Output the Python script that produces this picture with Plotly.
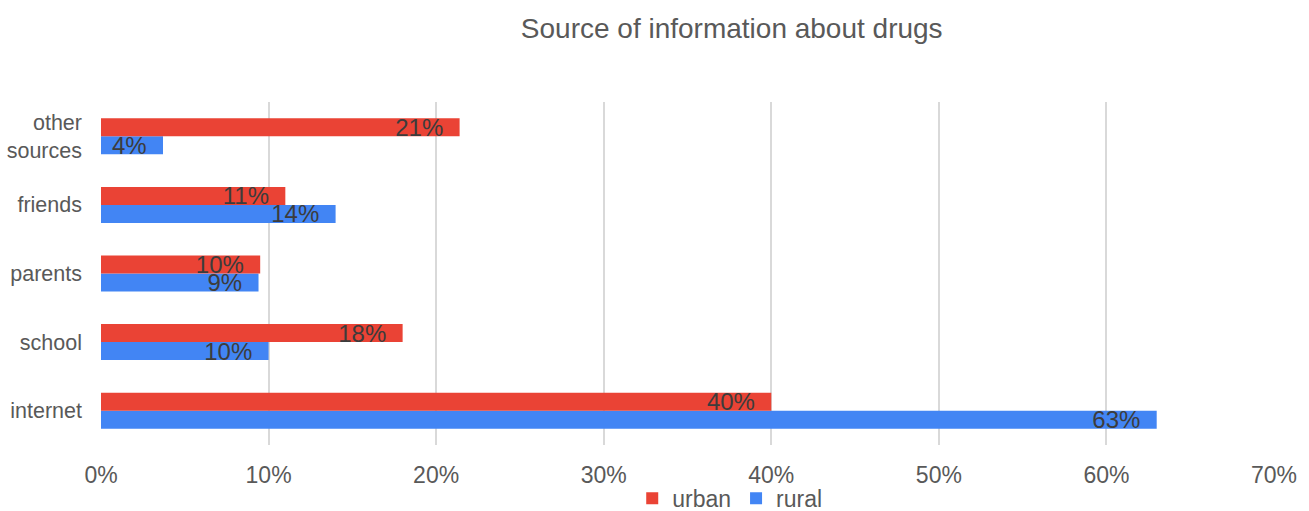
import plotly.graph_objects as go

# Survey data: share of respondents naming each source (percent)
categories = ["internet", "school", "parents", "friends", "other<br>sources"]
urban = [40.0, 18.0, 9.5, 11.0, 21.4]
rural = [63.0, 10.0, 9.4, 14.0, 3.7]
x_ticks = [0, 10, 20, 30, 40, 50, 60, 70]
x_tick_labels = [f"{v}%" for v in x_ticks]

RED = "#EA4335"
BLUE = "#4285F4"
LABEL_COLOR = "#3c3c3c"
AXIS_TEXT = "#595959"
FONT = "Liberation Sans, Arial, sans-serif"
PAD = "\u00a0\u00a0"  # keeps the value label a little away from the bar end

fig = go.Figure()
fig.add_trace(go.Bar(
    name="rural", y=categories, x=rural, orientation="h",
    marker=dict(color=BLUE, line=dict(width=0)),
    texttemplate="%{x:.0f}%" + PAD, textposition="inside",
    insidetextanchor="end", constraintext="none",
    textfont=dict(family=FONT, size=24, color=LABEL_COLOR),
    legendrank=2, hoverinfo="skip",
))
fig.add_trace(go.Bar(
    name="urban", y=categories, x=urban, orientation="h",
    marker=dict(color=RED, line=dict(width=0)),
    texttemplate="%{x:.0f}%" + PAD, textposition="inside",
    insidetextanchor="end", constraintext="none",
    textfont=dict(family=FONT, size=24, color=LABEL_COLOR),
    legendrank=1, hoverinfo="skip",
))

fig.update_layout(
    width=1309, height=511,
    margin=dict(l=101, r=35, t=102, b=66, autoexpand=False),
    paper_bgcolor="white", plot_bgcolor="white",
    barmode="group", bargap=0.475, bargroupgap=0,
    font=dict(family=FONT, color=AXIS_TEXT),
    title=dict(
        text="Source of information about drugs",
        x=0.559, xanchor="center", y=0.945, yanchor="middle",
        font=dict(size=28, color=AXIS_TEXT),
    ),
    xaxis=dict(
        range=[0, 70], tickvals=x_ticks, ticktext=x_tick_labels,
        showgrid=True, gridcolor="#d9d9d9", gridwidth=2,
        zeroline=False, showline=False, ticks="",
        ticklabelstandoff=14,
        tickfont=dict(size=23, color=AXIS_TEXT),
    ),
    yaxis=dict(
        showgrid=False, zeroline=False, showline=False, ticks="",
        ticklabelstandoff=18,
        tickfont=dict(size=21.5, color=AXIS_TEXT),
    ),
    legend=dict(
        orientation="h", x=0.536, xanchor="center",
        yref="container", y=0.025, yanchor="middle",
        bgcolor="rgba(0,0,0,0)",
        font=dict(size=23, color=AXIS_TEXT),
        itemwidth=30, tracegroupgap=0,
    ),
    showlegend=True,
)

fig.write_html("out.html")
